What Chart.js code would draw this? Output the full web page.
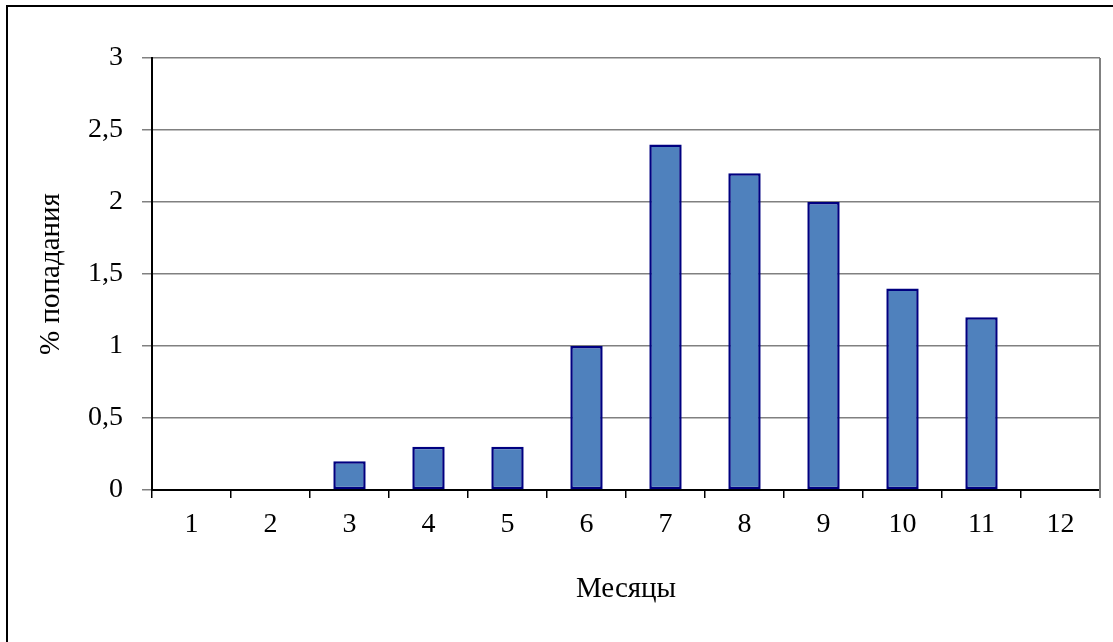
<!DOCTYPE html>
<html>
<head>
<meta charset="utf-8">
<script src="https://cdn.jsdelivr.net/npm/chart.js@4.4.1/dist/chart.umd.min.js"></script>
<style>
  html, body { margin: 0; padding: 0; background: #fff; }
  #box { width: 1113px; height: 642px; }
</style>
</head>
<body>
<div id="box"><canvas id="grafico"></canvas></div>
<script>
// dados do gráfico
const meses = ['1', '2', '3', '4', '5', '6', '7', '8', '9', '10', '11', '12'];
const percentual = [0, 0, 0.2, 0.3, 0.3, 1, 2.4, 2.2, 2.0, 1.4, 1.2, 0];
const tituloX = 'Месяцы';
const tituloY = '% попадания';

const fonte = 'Liberation Serif, Times New Roman, serif';

// moldura externa e borda direita da área do gráfico
const moldura = {
    id: 'moldura',
    beforeDraw(chart) {
        const ctx = chart.ctx;
        ctx.save();
        ctx.fillStyle = '#fff';
        ctx.fillRect(0, 0, chart.width, chart.height);
        ctx.strokeStyle = '#000';
        ctx.lineWidth = 2;
        ctx.beginPath();
        ctx.moveTo(7, chart.height);
        ctx.lineTo(7, 6);
        ctx.lineTo(chart.width, 6);
        ctx.stroke();
        ctx.restore();
    },
    afterDraw(chart) {
        const a = chart.chartArea;
        const ctx = chart.ctx;
        ctx.save();
        ctx.strokeStyle = '#808080';
        ctx.lineWidth = 2;
        ctx.beginPath();
        ctx.moveTo(a.right, a.top);
        ctx.lineTo(a.right, a.bottom + 8);
        ctx.stroke();
        ctx.restore();
    }
};

new Chart(document.getElementById('grafico'), {
    type: 'bar',
    data: {
        labels: meses,
        datasets: [{
            data: percentual,
            backgroundColor: '#4F81BD',
            borderColor: '#000080',
            borderWidth: 2.5,
            borderSkipped: false,
            barPercentage: 0.41,
            categoryPercentage: 1
        }]
    },
    options: {
        responsive: true,
        maintainAspectRatio: false,
        animation: false,
        layout: { padding: { left: 0, right: 13, top: 58, bottom: 0 } },
        plugins: {
            legend: { display: false },
            tooltip: { enabled: false }
        },
        scales: {
            x: {
                offset: true,
                grid: {
                    offset: true,
                    drawOnChartArea: false,
                    drawTicks: true,
                    tickLength: 8,
                    color: '#000',
                    lineWidth: 1.5
                },
                border: { color: '#000', width: 2 },
                ticks: {
                    color: '#000',
                    padding: 10,
                    maxRotation: 0,
                    font: { family: fonte, size: 28 }
                },
                title: {
                    display: true,
                    text: tituloX,
                    color: '#000',
                    padding: 35,
                    font: { family: fonte, size: 29 }
                },
                afterFit(scale) { scale.height = 152; }
            },
            y: {
                min: 0,
                max: 3,
                grid: {
                    color: '#808080',
                    lineWidth: 1.5,
                    tickLength: 10
                },
                border: { color: '#000', width: 2 },
                ticks: {
                    stepSize: 0.5,
                    color: '#000',
                    padding: 19,
                    font: { family: fonte, size: 28 },
                    callback: (v) => String(v).replace('.', ',')
                },
                title: {
                    display: true,
                    text: tituloY,
                    color: '#000',
                    padding: 34,
                    font: { family: fonte, size: 29 }
                },
                afterFit(scale) { scale.width = 152; }
            }
        }
    },
    plugins: [moldura]
});
</script>
</body>
</html>
